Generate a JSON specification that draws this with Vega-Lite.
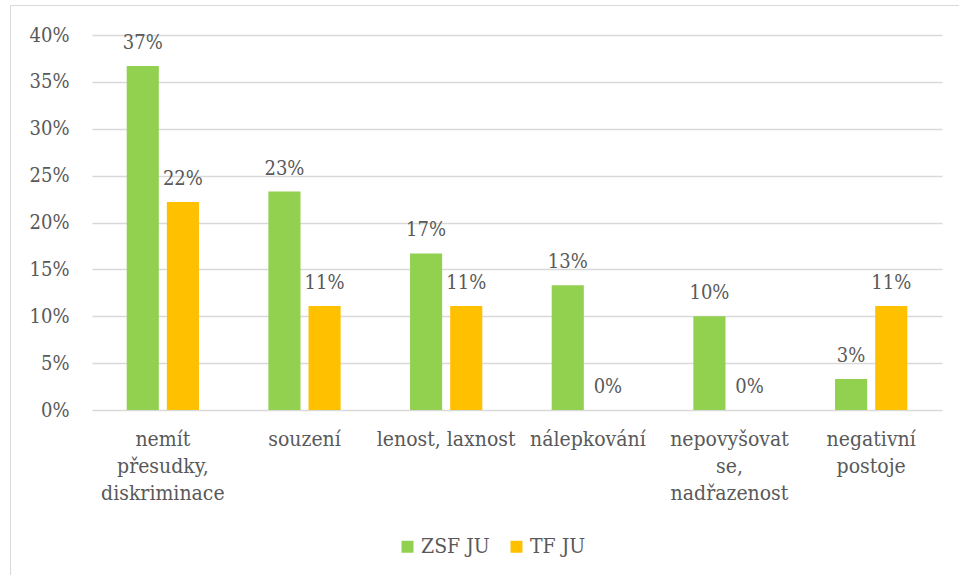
{
  "$schema": "https://vega.github.io/schema/vega-lite/v6.json",
  "autosize": {"type": "none"},
  "width": 950,
  "height": 575,
  "padding": {"left": 10, "top": 5, "right": 0, "bottom": 0},
  "background": "white",
  "config": {
    "view": {"stroke": "#d9d9d9", "strokeWidth": 1},
    "font": "DejaVu Serif Condensed"
  },
  "data": {
    "values": [
      {"category": "nemít přesudky, diskriminace", "series": "ZSF JU", "value": 0.367},
      {"category": "nemít přesudky, diskriminace", "series": "TF JU", "value": 0.222},
      {"category": "souzení", "series": "ZSF JU", "value": 0.233},
      {"category": "souzení", "series": "TF JU", "value": 0.111},
      {"category": "lenost, laxnost", "series": "ZSF JU", "value": 0.167},
      {"category": "lenost, laxnost", "series": "TF JU", "value": 0.111},
      {"category": "nálepkování", "series": "ZSF JU", "value": 0.133},
      {"category": "nálepkování", "series": "TF JU", "value": 0.0},
      {"category": "nepovyšovat se, nadřazenost", "series": "ZSF JU", "value": 0.1},
      {"category": "nepovyšovat se, nadřazenost", "series": "TF JU", "value": 0.0},
      {"category": "negativní postoje", "series": "ZSF JU", "value": 0.033},
      {"category": "negativní postoje", "series": "TF JU", "value": 0.111}
    ]
  },
  "encoding": {
    "x": {
      "field": "category",
      "type": "nominal",
      "sort": null,
      "scale": {"range": [82, 932], "paddingInner": 0.49, "paddingOuter": 0.245},
      "axis": {
        "title": null,
        "orient": "bottom",
        "offset": -170,
        "domain": false,
        "ticks": false,
        "grid": false,
        "labelAngle": 0,
        "labelFontSize": 21,
        "labelColor": "#595959",
        "labelPadding": 18,
        "labelBaseline": "top",
        "labelLineHeight": 27,
        "labelOverlap": false,
        "labelLimit": 0,
        "labelExpr": "datum.value == 'nemít přesudky, diskriminace' ? ['nemít', 'přesudky,', 'diskriminace'] : datum.value == 'nepovyšovat se, nadřazenost' ? ['nepovyšovat', 'se,', 'nadřazenost'] : datum.value == 'negativní postoje' ? ['negativní', 'postoje'] : datum.value"
      }
    },
    "xOffset": {
      "field": "series",
      "type": "nominal",
      "sort": ["ZSF JU", "TF JU"],
      "scale": {"paddingInner": 0.2, "paddingOuter": 0}
    },
    "y": {
      "field": "value",
      "type": "quantitative",
      "scale": {"domain": [0, 0.4], "range": [405, 30], "nice": false},
      "axis": {
        "title": null,
        "orient": "left",
        "offset": -82,
        "values": [0, 0.05, 0.1, 0.15, 0.2, 0.25, 0.3, 0.35, 0.4],
        "format": ".0%",
        "domain": false,
        "ticks": false,
        "grid": true,
        "gridColor": "#d9d9d9",
        "gridWidth": 1.3,
        "labelFontSize": 20,
        "labelColor": "#595959",
        "labelPadding": 23
      }
    }
  },
  "layer": [
    {
      "mark": {"type": "bar"},
      "encoding": {
        "color": {
          "field": "series",
          "type": "nominal",
          "scale": {"domain": ["ZSF JU", "TF JU"], "range": ["#92d050", "#ffc000"]},
          "legend": {
            "title": null,
            "orient": "none",
            "legendX": 387,
            "legendY": 531,
            "direction": "horizontal",
            "symbolType": "square",
            "symbolSize": 144,
            "symbolStrokeWidth": 0,
            "labelFontSize": 21,
            "labelColor": "#595959",
            "labelOffset": 3,
            "columnPadding": 16
          }
        }
      }
    },
    {
      "mark": {"type": "text", "baseline": "alphabetic", "dy": -17, "fontSize": 20, "color": "#595959"},
      "encoding": {
        "text": {"field": "value", "type": "quantitative", "format": ".0%"}
      }
    }
  ]
}
